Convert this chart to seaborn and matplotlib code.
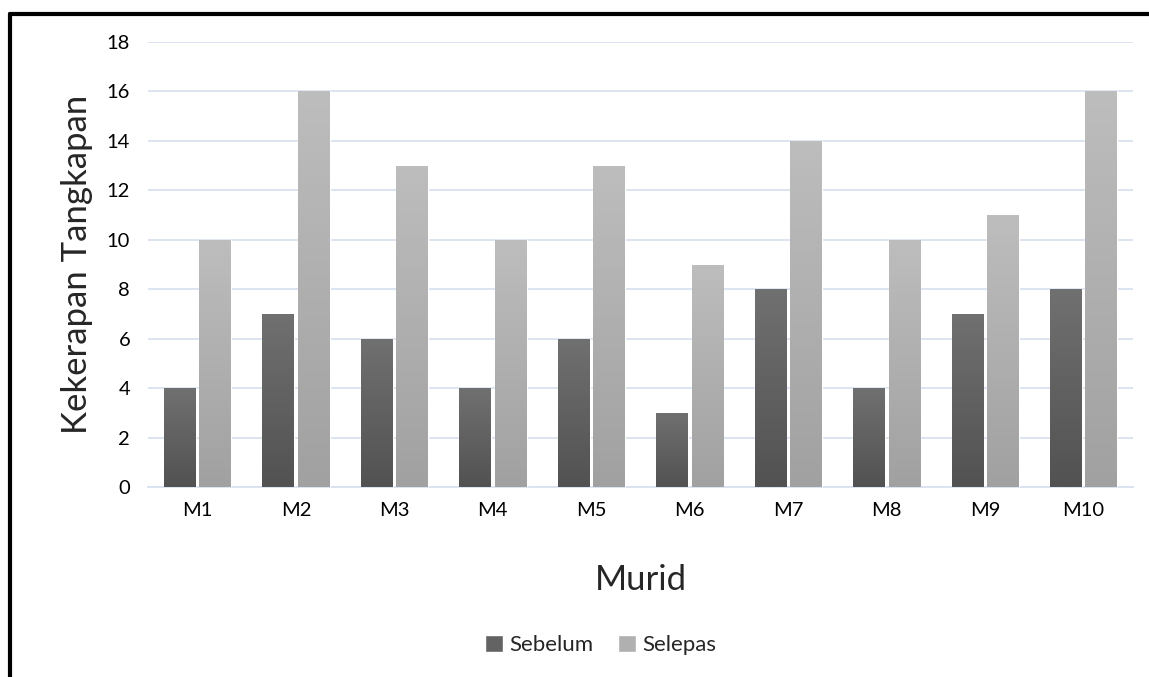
import numpy as np
import pandas as pd
import matplotlib.pyplot as plt
import matplotlib.colors as mcolors
from matplotlib.lines import Line2D
from matplotlib.patches import Patch
import seaborn as sns

murid = ['M1', 'M2', 'M3', 'M4', 'M5', 'M6', 'M7', 'M8', 'M9', 'M10']
sebelum = [4, 7, 6, 4, 6, 3, 8, 4, 7, 8]
selepas = [10, 16, 13, 10, 13, 9, 14, 10, 11, 16]
yticks = [0, 2, 4, 6, 8, 10, 12, 14, 16, 18]

# bentuk data panjang untuk seaborn
df = pd.DataFrame({
    'Murid': murid * 2,
    'Nilai': sebelum + selepas,
    'Kumpulan': ['Sebelum'] * len(murid) + ['Selepas'] * len(murid),
})

sns.set_theme(style='white')
plt.rcParams['font.family'] = ['Lato', 'DejaVu Sans']

colors = {'Sebelum': '#636363', 'Selepas': '#b0b0b0'}
grad = {'Sebelum': ('#707070', '#525252'), 'Selepas': ('#bdbdbd', '#a1a1a1')}

fig = plt.figure(figsize=(11.49, 6.77), dpi=100)
ax = fig.add_axes([0.129, 0.2806, 0.857, 0.6574])

sns.barplot(data=df, x='Murid', y='Nilai', hue='Kumpulan', palette=colors,
            width=0.72, gap=0.1, ax=ax, legend=False, saturation=1, zorder=3)

# gradien menegak pada setiap bar
n = len(murid)
for i, p in enumerate(ax.patches):
    key = 'Sebelum' if i < n else 'Selepas'
    top, bot = grad[key]
    cmap = mcolors.LinearSegmentedColormap.from_list('g', [bot, top])
    x0, y0 = p.get_x(), p.get_y()
    w, h = p.get_width(), p.get_height()
    img = ax.imshow(np.linspace(0, 1, 100).reshape(-1, 1), cmap=cmap,
                    extent=[x0, x0 + w, y0, y0 + h], origin='lower',
                    aspect='auto', zorder=4)
    img.set_clip_path(p)

ax.set_xlim(-0.5, n - 0.5)
ax.set_ylim(0, 18)
ax.set_yticks(yticks)
ax.yaxis.grid(True, color='#d9e1f0', linewidth=1.3, zorder=0)
ax.xaxis.grid(False)
for s in ['top', 'right', 'left']:
    ax.spines[s].set_visible(False)
ax.spines['bottom'].set_color('#d9e1f0')
ax.spines['bottom'].set_linewidth(1.3)
ax.tick_params(axis='both', length=0, labelsize=14.5, colors='black')
ax.tick_params(axis='x', pad=11)
ax.tick_params(axis='y', pad=13)

ax.set_xlabel('Murid', fontsize=25, labelpad=32)
ax.set_ylabel('Kekerapan Tangkapan', fontsize=25, labelpad=10)

handles = [Patch(facecolor=colors['Sebelum']), Patch(facecolor=colors['Selepas'])]
fig.legend(handles, ['Sebelum', 'Selepas'], loc='center', bbox_to_anchor=(0.523, 0.047),
           ncol=2, frameon=False, fontsize=16, handlelength=0.8, handleheight=0.8,
           handletextpad=0.3, columnspacing=1.1)

# bingkai atas dan kiri
fig.add_artist(Line2D([0.0087, 1.0], [0.9795, 0.9795], color='black', linewidth=3,
                      transform=fig.transFigure))
fig.add_artist(Line2D([0.0087, 0.0087], [0.0, 0.9795], color='black', linewidth=3,
                      transform=fig.transFigure))

fig.savefig('out.png', dpi=100)
